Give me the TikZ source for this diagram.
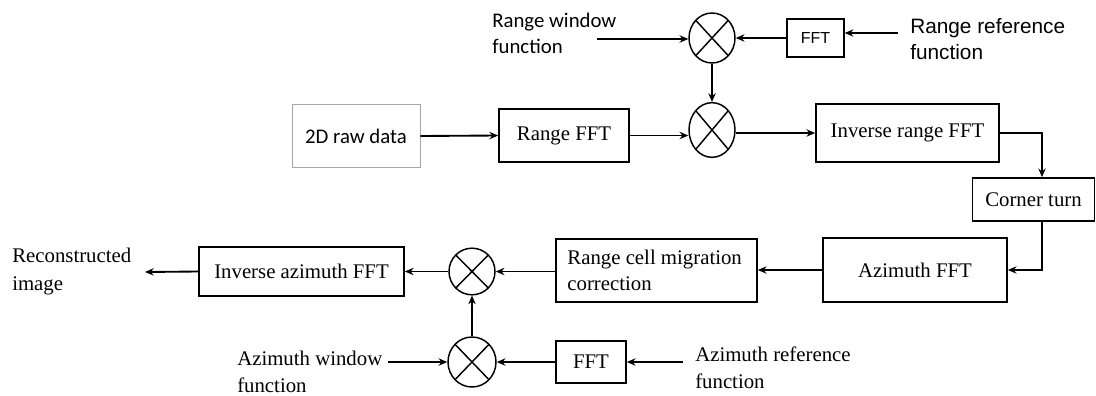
\documentclass[tikz,border=0pt]{standalone}
\usepackage{fontspec}
\setmainfont{Liberation Serif}
\newfontfamily\calfont{Carlito}
\newfontfamily\arialfont{Liberation Sans}
\usetikzlibrary{arrows.meta,shapes.geometric}

\tikzset{
  block/.style={draw, line width=1.3pt, inner sep=0pt, font=\fontsize{15.6}{20}\selectfont},
  mixer/.style={draw, ellipse, line width=1.1pt, inner sep=0pt,
    minimum width=34.5pt, minimum height=37.5pt,
    path picture={\draw[line width=1.1pt]
      (path picture bounding box.north west) -- (path picture bounding box.south east)
      (path picture bounding box.north east) -- (path picture bounding box.south west);}},
  txt/.style={align=left, anchor=west, inner sep=0pt, font=\fontsize{15.6}{20}\selectfont},
  stxt/.style={txt, font=\calfont\fontsize{15.6}{20}\selectfont},
  flow/.style={-{Stealth[length=6.5pt,width=5.5pt]}, line width=1.4pt},
}

\begin{document}
\begin{tikzpicture}[x=0.75pt, y=-0.75pt]
\useasboundingbox (0,0) rectangle (1096,396);

% Range compression
\node[block, draw=black!35, line width=0.7pt, minimum width=96pt, minimum height=47.25pt,
  font=\calfont\fontsize{15.6}{20}\selectfont] (raw) at (356,136) {2D raw data};
\node[block, minimum width=97.5pt, minimum height=39.75pt] (rfft) at (564,135.5) {Range FFT};
\node[mixer, minimum height=41pt] (mixb) at (712,130) {};
\node[mixer] (mixt) at (712,38) {};
\node[block, line width=1pt, minimum width=42.75pt, minimum height=28.5pt,
  font=\arialfont\fontsize{12}{14}\selectfont] (fftr) at (815.5,38) {FFT};
\node[stxt] (rwin) at (492,33.5) {Range window\\function};
\node[txt, font=\arialfont\fontsize{15.6}{19.5}\selectfont] (rref) at (910,39) {Range reference\\function};
\coordinate (rwin-out) at (597,39);
\coordinate (rref-in) at (898,33);
\node[block, minimum width=137.25pt, minimum height=43.5pt] (irfft) at (907.5,133) {Inverse range FFT};

% Corner turn
\node[block, minimum width=91.5pt, minimum height=32.25pt] (corner) at (1033.5,199.5) {Corner turn};
\coordinate (turn) at (1042,0);

% Azimuth compression
\node[block, minimum width=138pt, minimum height=48pt] (afft) at (915,270) {Azimuth FFT};
\node[block, minimum width=150.75pt, minimum height=47.25pt] (rcmc) at (656.5,270.5) {};
\node[txt] (rcmc-text) at ([xshift=9pt]rcmc.west) {Range cell migration\\correction};
\node[mixer, minimum height=35pt] (mixa) at (472,271.5) {};
\node[mixer, minimum width=36pt] (mixl) at (472,362) {};
\node[block, minimum width=52.5pt, minimum height=31.5pt] (ffta) at (591,362) {FFT};
\node[block, minimum width=153.75pt, minimum height=36.75pt] (iafft) at (301.5,271.5) {Inverse azimuth FFT};
\node[txt] (awin) at (237,372) {Azimuth window\\function};
\node[txt] (aref) at (695,368) {Azimuth reference\\function};
\node[txt, font=\fontsize{15.6}{21}\selectfont] (recon) at (12,272) {Reconstructed\\image};
\coordinate (awin-out) at (388,362);
\coordinate (aref-in) at (683,362);
\coordinate (recon-in) at (145,272);

% Connectors
\draw[flow] (raw.east) -- (rfft.west);
\draw[flow] (rfft.east) -- (rfft.east -| mixb.west);
\draw[flow] (rwin-out) -- (rwin-out -| mixt.west);
\draw[flow] (fftr.west) -- (mixt.east);
\draw[flow] (rref-in) -- (rref-in -| fftr.east);
\draw[flow] (mixt.south) -- (mixb.north);
\draw[flow] (mixb.east |- irfft) -- (irfft.west);
\draw[flow] (irfft.east) -| (turn |- corner.north);
\draw[flow] (turn |- corner.south) |- (afft.east);
\draw[flow] (afft.west) -- (afft.west -| rcmc.east);
\draw[flow] (rcmc.west |- mixa) -- (mixa.east);
\draw[flow] (mixa.west) -- (iafft.east);
\draw[flow] (iafft.west) -- (recon-in);
\draw[flow] (mixl.north) -- (mixa.south);
\draw[flow] (awin-out) -- (mixl.west);
\draw[flow] (ffta.west) -- (mixl.east);
\draw[flow] (aref-in) -- (ffta.east);

\end{tikzpicture}
\end{document}
